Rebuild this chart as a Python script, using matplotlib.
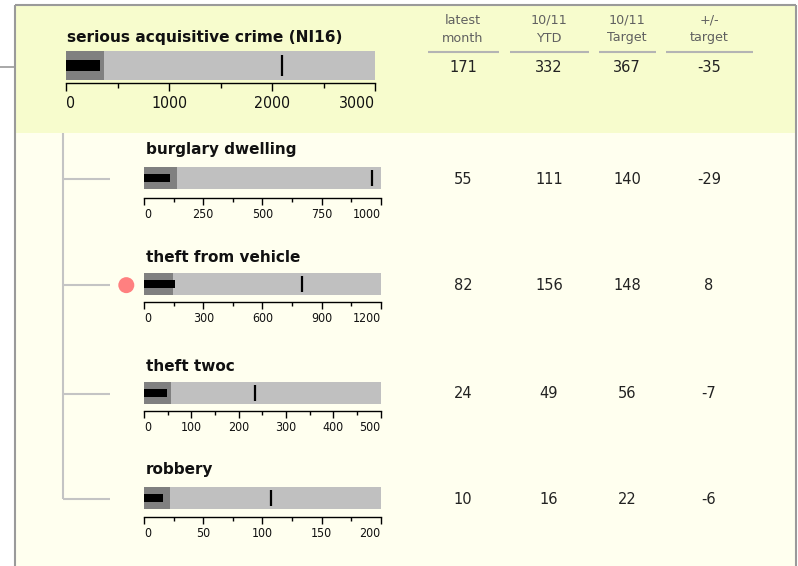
import matplotlib
matplotlib.use("Agg")
import matplotlib.pyplot as plt
from matplotlib.patches import Rectangle
from matplotlib.ticker import MultipleLocator
from matplotlib import font_manager as fm

# ---------------- data ----------------
main_name = "serious acquisitive crime (NI16)"
main_latest = 171
main_ytd = 332
main_target = 367
main_diff = -35
main_marker = 2100
main_max = 3000
main_step = 1000

sub_names = ["burglary dwelling", "theft from vehicle", "theft twoc", "robbery"]
sub_latest = [55, 82, 24, 10]
sub_ytd = [111, 156, 49, 16]
sub_target = [140, 148, 56, 22]
sub_diff = [-29, 8, -7, -6]
sub_marker = [965, 800, 234, 107]
sub_max = [1000, 1200, 500, 200]
sub_step = [250, 300, 100, 50]

col_line1 = ["latest", "10/11", "10/11", "+/-"]
col_line2 = ["month", "YTD", "Target", "target"]


# ---------------- condensed font lookup ----------------
def find_narrow_font():
    best, best_score = None, None
    for f in fm.fontManager.ttflist:
        nm = f.name.lower()
        fn = f.fname.lower().split("/")[-1]
        st = str(f.stretch).lower()
        is_cond = ("narrow" in nm or "narrow" in fn or "cond" in nm or "cond" in fn
                   or st in ("condensed", "semi-condensed"))
        if not is_cond:
            continue
        if "extra" in fn or "ultra" in fn or "extra" in st or "ultra" in st:
            continue
        if any(k in nm for k in ("mono", "serif", "cjk")):
            continue
        if f.style != "normal" or "italic" in fn or "oblique" in fn:
            continue
        try:
            w = int(f.weight)
        except (TypeError, ValueError):
            w = {"normal": 400, "regular": 400, "book": 400, "light": 300,
                 "bold": 700}.get(str(f.weight).lower(), 400)
        if w > 450 or w < 280:
            continue
        score = abs(w - 400)
        if "liberation" in nm or "arial" in nm:
            score -= 50
        if best_score is None or score < best_score:
            best, best_score = f.fname, score
    return best


NARROW_FILE = find_narrow_font()


def narrow_props(size, fallback_size):
    if NARROW_FILE:
        return fm.FontProperties(fname=NARROW_FILE, size=size)
    return fm.FontProperties(family=["Liberation Sans", "DejaVu Sans"],
                             size=fallback_size)


# ---------------- layout (pixels) ----------------
W, H = 798, 566
fig = plt.figure(figsize=(W / 100, H / 100), dpi=100)
fig.patch.set_facecolor("white")
bg = fig.add_axes([0, 0, 1, 1])
bg.set_xlim(0, W)
bg.set_ylim(H, 0)
bg.axis("off")

TOP_BG = "#F7FCCD"
LOW_BG = "#FFFFEF"
FRAME = "#9A9A9A"
TREE = "#C4C4C4"

bg.add_patch(Rectangle((15, 5), 781, H - 5, fc=LOW_BG, ec="none", zorder=0))
bg.add_patch(Rectangle((15, 5), 781, 128, fc=TOP_BG, ec="none", zorder=0))
bg.plot([15, 15], [5, H], color=FRAME, lw=1.5, solid_capstyle="butt")
bg.plot([15, 796], [5, 5], color=FRAME, lw=1.5, solid_capstyle="butt")
bg.plot([796, 796], [5, H], color=FRAME, lw=1.5, solid_capstyle="butt")
bg.plot([0, 15], [66.7, 66.7], color=FRAME, lw=1.2, solid_capstyle="butt")

col_x = [463, 549, 627, 709]
col_ul = [(428, 499), (510, 589), (599, 656), (666, 753)]


def bullet(x0, x1, bar_top, bar_bot, axis_y, vmax, target, ytd, marker, step,
           tick_fs, fb_fs, major_len, minor_len, pad):
    ax = fig.add_axes([x0 / W, 1 - axis_y / H, (x1 - x0) / W, (axis_y - bar_top) / H])
    lo = -(axis_y - bar_bot) / (bar_bot - bar_top)
    ax.set_xlim(0, vmax)
    ax.set_ylim(lo, 1)
    ax.patch.set_alpha(0)
    ax.barh(0.5, vmax, height=1, color="#C0C0C0", zorder=1)
    ax.barh(0.5, target, height=1, color="#808080", zorder=2)
    ax.barh(0.5, ytd, height=0.36, color="black", zorder=3)
    ax.plot([marker, marker], [0.13, 0.87], color="black", lw=1.6, zorder=4,
            solid_capstyle="butt")
    for s in ["top", "left", "right"]:
        ax.spines[s].set_visible(False)
    ax.spines["bottom"].set_linewidth(1.0)
    ax.set_yticks([])
    ax.xaxis.set_minor_locator(MultipleLocator(step / 2))
    ax.tick_params(axis="x", which="major", direction="out", length=major_len,
                   width=1.0, pad=pad, colors="black")
    ax.tick_params(axis="x", which="minor", direction="out", length=minor_len,
                   width=1.0)
    ticks = list(range(0, vmax + 1, step))
    ax.set_xticks(ticks)
    labels = ax.set_xticklabels([str(t) for t in ticks])
    fp = narrow_props(tick_fs, fb_fs)
    for lab in labels:
        lab.set_fontproperties(fp)
        lab.set_color("#111111")
    labels[0].set_ha("left")
    labels[-1].set_ha("right")
    return ax


# ---------------- main indicator ----------------
bg.text(67, 41.7, main_name, fontsize=11.1, fontweight="bold", color="#111111",
        va="baseline", ha="left", family="DejaVu Sans")
bullet(66, 375, 51, 80, 83.3, main_max, main_target, main_ytd, main_marker,
       main_step, 11.4, 10.5, 8 / 1.389, 5.5 / 1.389, 3.6)

for i in range(4):
    bg.text(col_x[i], 20, col_line1[i], fontsize=9.2, color="#606060",
            ha="center", va="center")
    bg.text(col_x[i], 38, col_line2[i], fontsize=9.2, color="#606060",
            ha="center", va="center")
    bg.plot(col_ul[i], [51.7, 51.7], color="#B4B4B4", lw=1.5,
            solid_capstyle="butt")
main_vals = [main_latest, main_ytd, main_target, main_diff]
for i in range(4):
    bg.text(col_x[i], 67.5, str(main_vals[i]), fontsize=10.5, color="#222222",
            ha="center", va="center")

# ---------------- sub indicators ----------------
row_bar_top = [166.7, 273.3, 381.7, 486.7]
row_bar_bot = [189.3, 295.0, 404.3, 509.3]
row_axis = [197.5, 301.7, 410.5, 516.7]
row_title = [154.0, 261.7, 371.0, 474.0]

branch_y = []
for r in range(4):
    cy = (row_bar_top[r] + row_bar_bot[r]) / 2 + 1
    branch_y.append(cy)
    bg.text(146, row_title[r], sub_names[r], fontsize=11, fontweight="bold",
            color="#111111", va="baseline", ha="left", family="DejaVu Sans")
    bullet(144, 380.7, row_bar_top[r], row_bar_bot[r], row_axis[r], sub_max[r],
           sub_target[r], sub_ytd[r], sub_marker[r], sub_step[r],
           8.9, 8.0, 7 / 1.389, 4 / 1.389, 2.6)
    vals = [sub_latest[r], sub_ytd[r], sub_target[r], sub_diff[r]]
    for i in range(4):
        bg.text(col_x[i], cy, str(vals[i]), fontsize=10.5, color="#222222",
                ha="center", va="center")
    bg.plot([63, 110], [cy, cy], color=TREE, lw=1.5, solid_capstyle="butt")
    if sub_diff[r] > 0:
        bg.scatter([126.3], [cy], s=(16 * 0.72) ** 2, color="#FF8080",
                   edgecolors="none", zorder=5)

bg.plot([63, 63], [133, branch_y[-1]], color=TREE, lw=1.5, solid_capstyle="butt")

fig.savefig("out.png", dpi=100, facecolor="white")
